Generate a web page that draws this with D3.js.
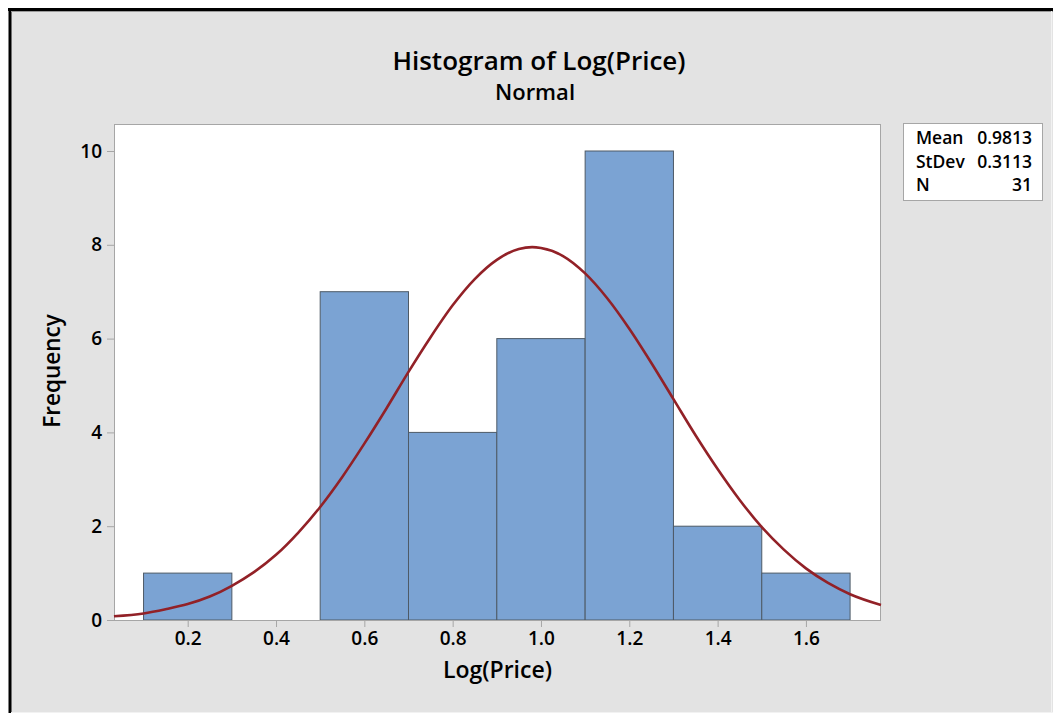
<!DOCTYPE html>
<html><head><meta charset="utf-8">
<script src="https://cdn.jsdelivr.net/npm/d3@7"></script>
<style>
body{margin:0;padding:0;background:#fff;}
svg text{font-family:"Open Sans","Noto Sans",sans-serif;font-weight:600;fill:#000;}
</style></head>
<body>
<svg id="chart" width="1053" height="713"></svg>
<script>
// ---- data ----
const binStarts = [0.1, 0.3, 0.5, 0.7, 0.9, 1.1, 1.3, 1.5];
const binEnds   = [0.3, 0.5, 0.7, 0.9, 1.1, 1.3, 1.5, 1.7];
const counts    = [1, 0, 7, 4, 6, 10, 2, 1];
const xTicks = [0.2, 0.4, 0.6, 0.8, 1.0, 1.2, 1.4, 1.6];
const yTicks = [0, 2, 4, 6, 8, 10];
// fitted normal curve
const curveX = [0.033, 0.1, 0.15, 0.2, 0.25, 0.3, 0.35, 0.4, 0.45, 0.5, 0.55, 0.6, 0.65, 0.7, 0.75, 0.8, 0.85, 0.9, 0.95, 0.98, 1.0, 1.05, 1.1, 1.15, 1.2, 1.25, 1.3, 1.35, 1.4, 1.45, 1.5, 1.55, 1.6, 1.65, 1.7, 1.77];
const curveY = [0.08, 0.14, 0.23, 0.34, 0.50, 0.73, 1.02, 1.39, 1.86, 2.41, 3.05, 3.76, 4.51, 5.29, 6.03, 6.71, 7.27, 7.68, 7.91, 7.95, 7.93, 7.76, 7.39, 6.86, 6.21, 5.48, 4.71, 3.94, 3.22, 2.56, 1.98, 1.50, 1.10, 0.79, 0.55, 0.32];
const statLabels = ["Mean", "StDev", "N"];
const statValues = ["0.9813", "0.3113", "31"];
const title = "Histogram of Log(Price)";
const subtitle = "Normal";
const xLabel = "Log(Price)";
const yLabel = "Frequency";

// ---- layout ----
const svg = d3.select("#chart");
const W = 1053, H = 713;
const plot = {left: 114, top: 124, right: 881, bottom: 620};

// background & frame
svg.append("rect").attr("x", 0).attr("y", 0).attr("width", W).attr("height", H).attr("fill", "#ffffff");
svg.append("rect").attr("x", 11).attr("y", 11).attr("width", W - 11).attr("height", H - 11).attr("fill", "#e3e3e3");
svg.append("line").attr("x1", 8).attr("x2", W).attr("y1", 9.5).attr("y2", 9.5).attr("stroke", "#000").attr("stroke-width", 3);
svg.append("line").attr("x1", 10).attr("x2", 10).attr("y1", 8).attr("y2", H).attr("stroke", "#000").attr("stroke-width", 3);
svg.append("line").attr("x1", 11).attr("x2", W).attr("y1", 11.5).attr("y2", 11.5).attr("stroke", "#9a9a9a").attr("stroke-width", 1);
svg.append("line").attr("x1", 11).attr("x2", W).attr("y1", 712.5).attr("y2", 712.5).attr("stroke", "#f2f2f2").attr("stroke-width", 1);
svg.append("line").attr("x1", 1051.5).attr("x2", 1051.5).attr("y1", 11).attr("y2", H).attr("stroke", "#f2f2f2").attr("stroke-width", 1);

const x = d3.scaleLinear().domain([0.0331, 1.770]).range([plot.left, plot.right]);
const y = d3.scaleLinear().domain([0, 10]).range([plot.bottom, 151]);

// plot area
svg.append("rect").attr("x", plot.left).attr("y", plot.top)
  .attr("width", plot.right - plot.left).attr("height", plot.bottom - plot.top)
  .attr("fill", "#ffffff");

// bars
const bins = counts.map((c, i) => ({x0: binStarts[i], x1: binEnds[i], c}));
svg.append("g").selectAll("rect").data(bins.filter(d => d.c > 0)).join("rect")
  .attr("x", d => x(d.x0)).attr("y", d => y(d.c))
  .attr("width", d => x(d.x1) - x(d.x0)).attr("height", d => y(0) - y(d.c))
  .attr("fill", "#7ba3d3").attr("stroke", "#4e5a66").attr("stroke-width", 1);

// plot border
svg.append("rect").attr("x", plot.left + 0.5).attr("y", plot.top + 0.5)
  .attr("width", plot.right - plot.left - 1).attr("height", plot.bottom - plot.top)
  .attr("fill", "none").attr("stroke", "#a6a6a6").attr("stroke-width", 1);

// curve
const line = d3.line().x(d => x(d[0])).y(d => y(d[1])).curve(d3.curveMonotoneX);
svg.append("path").datum(curveX.map((v, i) => [v, curveY[i]]))
  .attr("d", line).attr("fill", "none").attr("stroke", "#922127").attr("stroke-width", 2.6);

// axes
const xAxis = d3.axisBottom(x).tickValues(xTicks).tickFormat(d3.format(".1f")).tickSize(7).tickPadding(5);
const gx = svg.append("g").attr("transform", `translate(0,${plot.bottom})`).call(xAxis);
gx.select(".domain").remove();
gx.selectAll(".tick line").attr("stroke", "#a6a6a6");
gx.selectAll(".tick text").style("font-size", "19px").attr("fill", "#000");

const yAxis = d3.axisLeft(y).tickValues(yTicks).tickFormat(d3.format("d")).tickSize(7).tickPadding(5);
const gy = svg.append("g").attr("transform", `translate(${plot.left},0)`).call(yAxis);
gy.select(".domain").remove();
gy.selectAll(".tick line").attr("stroke", "#a6a6a6");
gy.selectAll(".tick text").style("font-size", "19px").attr("fill", "#000");

// titles
svg.append("text").attr("x", 539).attr("y", 70).attr("text-anchor", "middle")
  .style("font-size", "26px").text(title);
svg.append("text").attr("x", 535).attr("y", 100).attr("text-anchor", "middle")
  .style("font-size", "22px").text(subtitle);
svg.append("text").attr("x", (plot.left + plot.right) / 2).attr("y", 678).attr("text-anchor", "middle")
  .style("font-size", "23px").text(xLabel);
svg.append("text").attr("transform", `translate(60,371) rotate(-90)`).attr("text-anchor", "middle")
  .style("font-size", "22.5px").text(yLabel);

// legend
const lg = svg.append("g");
lg.append("rect").attr("x", 903.5).attr("y", 123.5).attr("width", 139).attr("height", 77)
  .attr("fill", "#fff").attr("stroke", "#a6a6a6");
statLabels.forEach((s, i) => {
  lg.append("text").attr("x", 916).attr("y", 144 + i * 23.5).style("font-size", "17.5px").text(s);
  lg.append("text").attr("x", 1032).attr("y", 144 + i * 23.5).attr("text-anchor", "end").style("font-size", "17.5px").text(statValues[i]);
});
</script>
</body></html>
